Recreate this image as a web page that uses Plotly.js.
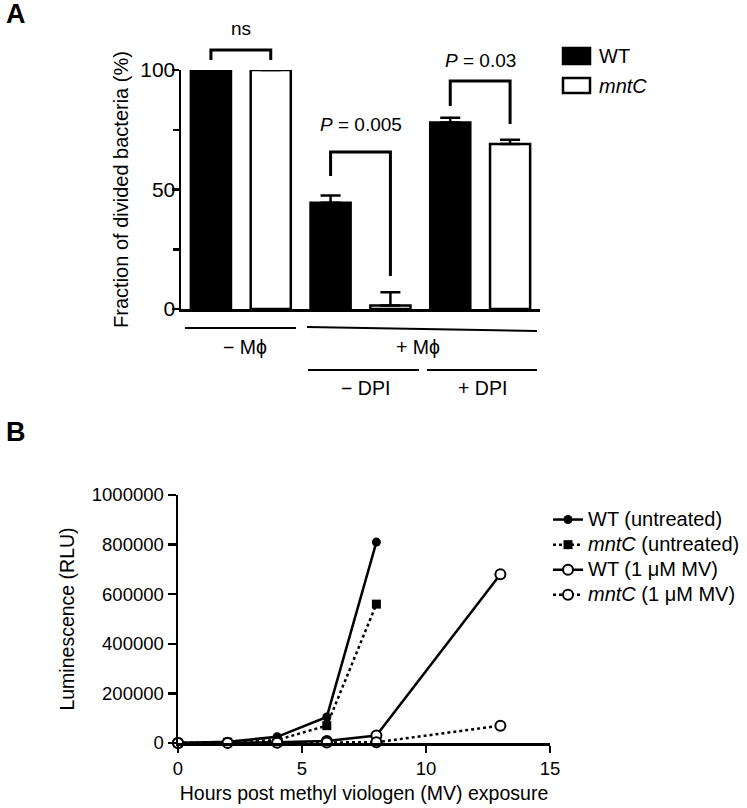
<!DOCTYPE html>
<html>
<head>
<meta charset="utf-8">
<script src="https://cdn.plot.ly/plotly-3.0.1.min.js"></script>
<style>html,body{margin:0;padding:0;background:#fff;}#chart{width:747px;height:808px;}</style>
</head>
<body>
<div id="chart"></div>
<script>
// ---------- Panel A data ----------
const groups = ['− Mϕ', '+ Mϕ − DPI', '+ Mϕ + DPI'];
const wtFraction = [100, 44.5, 78];
const wtErr = [0, 3, 2];
const mntcFraction = [100, 1.5, 69];
const mntcErr = [0, 5.5, 1.8];
const seriesNamesA = ['WT', 'mntC'];

// ---------- Panel B data ----------
const hoursUntreated = [0, 2, 4, 6, 8];
const hoursMV = [0, 2, 4, 6, 8, 13];
const wtUntreated = [0, 5000, 25000, 105000, 810000];
const mntcUntreated = [0, 3000, 12000, 70000, 560000];
const wtMV = [0, 1000, 3000, 8000, 30000, 680000];
const mntcMV = [0, 500, 1000, 2000, 3000, 70000];
const seriesNamesB = ['WT (untreated)', '<i>mntC</i> (untreated)', 'WT (1 μM MV)', '<i>mntC</i> (1 μM MV)'];

// ---------- layout geometry ----------
const W = 747, H = 808;
const px = x => x / W;
const py = y => 1 - y / H;
const xDomA = [px(181), px(540)];
const yDomA = [py(309), py(70)];
const xDomB = [px(178), px(550)];
const yDomB = [py(743), py(495)];
const FONT = 'Arial, "Liberation Sans", sans-serif';

// data -> paper helpers for panel A decorations
const xa = v => xDomA[0] + (v + 0.5) / 3 * (xDomA[1] - xDomA[0]);
const ya = v => yDomA[0] + v / 100 * (yDomA[1] - yDomA[0]);

const zeros = wtErr.map(() => 0);
const legendName = s => '<span style="font-size:20px">' + s + '</span>';

const traces = [
  {
    type: 'bar', x: groups, y: wtFraction, name: seriesNamesA[0],
    xaxis: 'x', yaxis: 'y', showlegend: false, cliponaxis: false,
    marker: {color: '#000', line: {color: '#000', width: 2.5}},
    error_y: {type: 'data', symmetric: false, array: wtErr, arrayminus: zeros,
              color: '#000', thickness: 2.5, width: 10}
  },
  {
    type: 'bar', x: groups, y: mntcFraction, name: seriesNamesA[1],
    xaxis: 'x', yaxis: 'y', showlegend: false, cliponaxis: false,
    marker: {color: '#fff', line: {color: '#000', width: 2.5}},
    error_y: {type: 'data', symmetric: false, array: mntcErr, arrayminus: zeros,
              color: '#000', thickness: 2.5, width: 10}
  },
  {
    type: 'scatter', mode: 'lines+markers', x: hoursUntreated, y: wtUntreated,
    name: legendName(seriesNamesB[0]), xaxis: 'x2', yaxis: 'y2', legend: 'legend2', cliponaxis: false,
    line: {color: '#000', width: 2.5},
    marker: {symbol: 'circle', size: 9, color: '#000'}
  },
  {
    type: 'scatter', mode: 'lines+markers', x: hoursUntreated, y: mntcUntreated,
    name: legendName(seriesNamesB[1]), xaxis: 'x2', yaxis: 'y2', legend: 'legend2', cliponaxis: false,
    line: {color: '#000', width: 2.5, dash: 'dot'},
    marker: {symbol: 'square', size: 9, color: '#000'}
  },
  {
    type: 'scatter', mode: 'lines+markers', x: hoursMV, y: wtMV,
    name: legendName(seriesNamesB[2]), xaxis: 'x2', yaxis: 'y2', legend: 'legend2', cliponaxis: false,
    line: {color: '#000', width: 2.5},
    marker: {symbol: 'circle', size: 10, color: '#fff', line: {color: '#000', width: 2}}
  },
  {
    type: 'scatter', mode: 'lines+markers', x: hoursMV, y: mntcMV,
    name: legendName(seriesNamesB[3]), xaxis: 'x2', yaxis: 'y2', legend: 'legend2', cliponaxis: false,
    line: {color: '#000', width: 2.5, dash: 'dot'},
    marker: {symbol: 'circle', size: 10, color: '#fff', line: {color: '#000', width: 2}}
  }
];

// significance brackets in data units: [xLeft, xRight, top, leftEnd, rightEnd]
const brackets = [
  [-0.25, 0.25, 108.4, 104.2, 104.2],
  [0.75, 1.25, 65.7, 55.6, 13.8],
  [1.75, 2.25, 95.4, 84.9, 77.4]
];
const bracketLabels = [
  ['ns', 0, 117.5],
  ['<i>P</i> = 0.005', 1, 77],
  ['<i>P</i> = 0.03', 2, 104]
];

const shapes = [];
brackets.forEach(b => {
  shapes.push({
    type: 'path', xref: 'paper', yref: 'paper',
    path: `M ${xa(b[0])} ${ya(b[3])} L ${xa(b[0])} ${ya(b[2])} L ${xa(b[1])} ${ya(b[2])} L ${xa(b[1])} ${ya(b[4])}`,
    line: {color: '#000', width: 3}
  });
});
// grouping lines under panel A
const groupLines = [
  [185, 328, 296, 328],
  [307, 327, 537, 331],
  [308, 370, 419, 370],
  [427, 370, 537, 370]
];
groupLines.forEach(g => shapes.push({
  type: 'line', xref: 'paper', yref: 'paper',
  x0: px(g[0]), y0: py(g[1]), x1: px(g[2]), y1: py(g[3]),
  line: {color: '#000', width: 2}
}));
// manual legend squares for panel A
shapes.push({type: 'rect', xref: 'paper', yref: 'paper',
  x0: px(563), x1: px(590), y0: py(64), y1: py(48),
  fillcolor: '#000', line: {color: '#000', width: 2.5}});
shapes.push({type: 'rect', xref: 'paper', yref: 'paper',
  x0: px(563), x1: px(590), y0: py(93), y1: py(78),
  fillcolor: '#fff', line: {color: '#000', width: 2.5}});

const annotations = [];
bracketLabels.forEach(l => annotations.push({
  text: l[0], xref: 'paper', yref: 'paper', x: xa(l[1]), y: ya(l[2]),
  xanchor: 'center', yanchor: 'middle', showarrow: false,
  font: {family: FONT, size: 19, color: '#000'}
}));
const groupTexts = [
  ['− Mϕ', 245, 347],
  ['+ Mϕ', 418, 347],
  ['− DPI', 365, 388],
  ['+ DPI', 482, 388]
];
groupTexts.forEach(t => annotations.push({
  text: t[0], xref: 'paper', yref: 'paper', x: px(t[1]), y: py(t[2]),
  xanchor: 'center', yanchor: 'middle', showarrow: false,
  font: {family: FONT, size: 19.5, color: '#000'}
}));
annotations.push({text: seriesNamesA[0], xref: 'paper', yref: 'paper', x: px(597), y: py(56),
  xanchor: 'left', yanchor: 'middle', showarrow: false, font: {family: FONT, size: 20, color: '#000'}});
annotations.push({text: '<i>' + seriesNamesA[1] + '</i>', xref: 'paper', yref: 'paper', x: px(597), y: py(86),
  xanchor: 'left', yanchor: 'middle', showarrow: false, font: {family: FONT, size: 20, color: '#000'}});
annotations.push({text: '<b>A</b>', xref: 'paper', yref: 'paper', x: px(4), y: py(14),
  xanchor: 'left', yanchor: 'middle', showarrow: false, font: {family: FONT, size: 27, color: '#000'}});
annotations.push({text: '<b>B</b>', xref: 'paper', yref: 'paper', x: px(4), y: py(432),
  xanchor: 'left', yanchor: 'middle', showarrow: false, font: {family: FONT, size: 27, color: '#000'}});

const axisCommon = {
  showgrid: false, zeroline: false, showline: true, linecolor: '#000', linewidth: 2.5,
  ticks: 'outside', tickcolor: '#000', tickwidth: 2.5, fixedrange: true, automargin: false
};

const layout = {
  width: W, height: H,
  margin: {l: 0, r: 0, t: 0, b: 0, autoexpand: false},
  paper_bgcolor: '#fff', plot_bgcolor: 'rgba(0,0,0,0)',
  font: {family: FONT, color: '#000', size: 18},
  barmode: 'group', bargap: 0, bargroupgap: 0.33,
  showlegend: true,
  xaxis: Object.assign({}, axisCommon, {
    domain: xDomA, anchor: 'y', type: 'category', range: [-0.5, 2.5],
    showticklabels: false, ticks: ''
  }),
  yaxis: Object.assign({}, axisCommon, {
    domain: yDomA, anchor: 'x', range: [0, 100], tickvals: [0, 50, 100], ticklen: 7,
    ticklabelstandoff: -8,
    tickfont: {family: FONT, size: 21, color: '#000'},
    minor: {dtick: 25, ticks: 'outside', ticklen: 6, tickwidth: 2.5, tickcolor: '#000', showgrid: false},
    title: {text: 'Fraction of divided bacteria (%)', standoff: 7,
            font: {family: FONT, size: 20, color: '#000'}}
  }),
  xaxis2: Object.assign({}, axisCommon, {
    domain: xDomB, anchor: 'y2', range: [0, 15], tickvals: [0, 5, 10, 15], ticklen: 7,
    tickfont: {family: FONT, size: 18.5, color: '#000'},
    title: {text: 'Hours post methyl viologen (MV) exposure', standoff: 9,
            font: {family: FONT, size: 19.5, color: '#000'}}
  }),
  yaxis2: Object.assign({}, axisCommon, {
    domain: yDomB, anchor: 'x2', range: [0, 1000000], dtick: 200000, tickformat: 'd', ticklen: 8,
    tickfont: {family: FONT, size: 18.5, color: '#000'},
    title: {text: 'Luminescence (RLU)', standoff: 12,
            font: {family: FONT, size: 19.5, color: '#000'}}
  }),
  legend2: {
    x: px(548), y: py(502), xanchor: 'left', yanchor: 'top',
    bgcolor: 'rgba(0,0,0,0)', borderwidth: 0, itemwidth: 30,
    font: {family: FONT, size: 17, color: '#000'}, tracegroupgap: 0
  },
  shapes: shapes,
  annotations: annotations
};

Plotly.newPlot('chart', traces, layout, {displayModeBar: false, staticPlot: true});
</script>
</body>
</html>
